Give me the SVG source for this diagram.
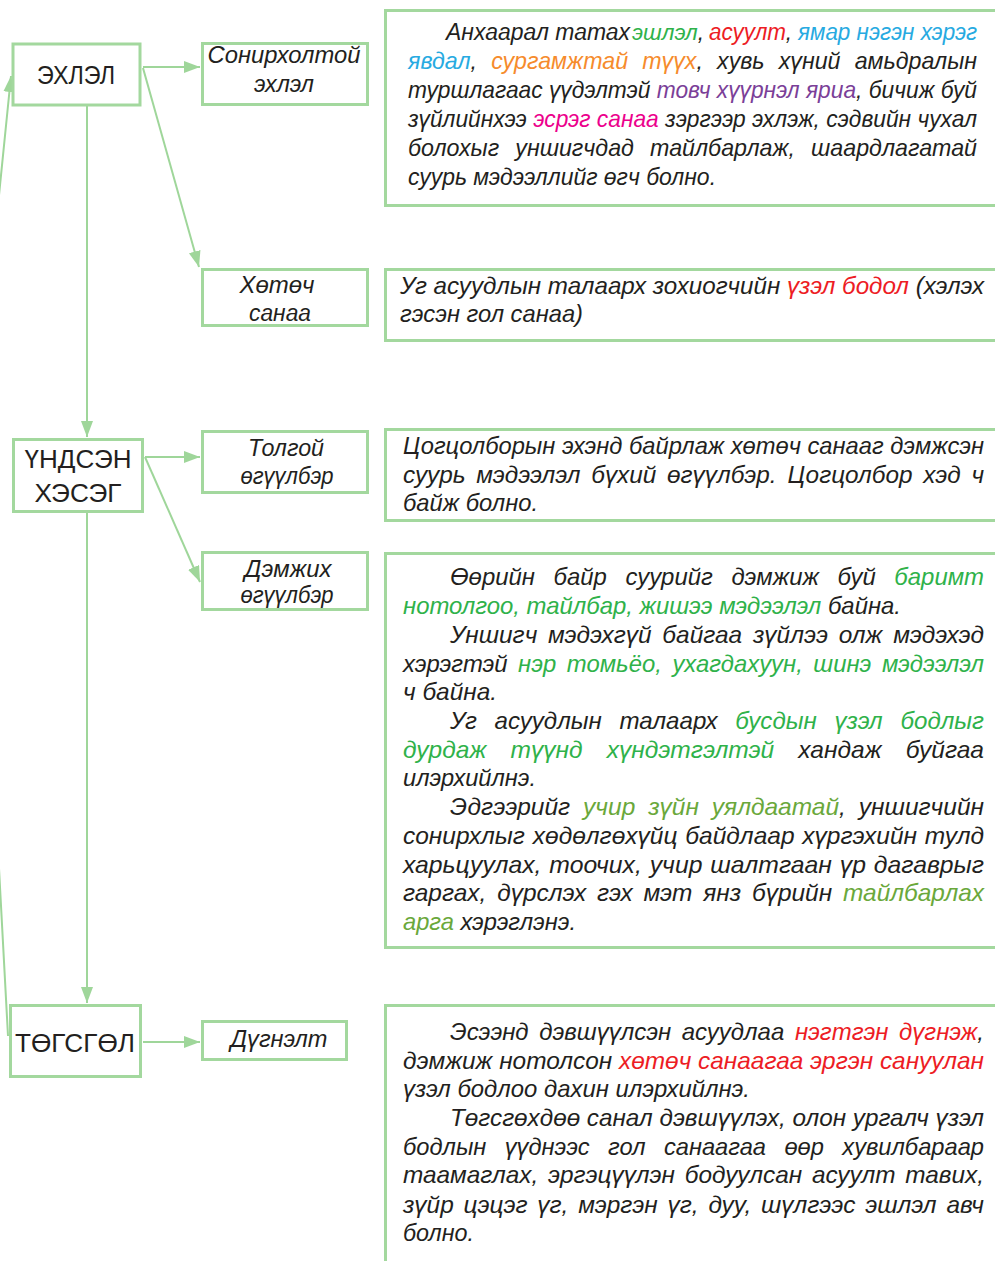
<svg xmlns="http://www.w3.org/2000/svg" width="995" height="1261" viewBox="0 0 995 1261">
<defs>
<marker id="ah" viewBox="0 0 16 12" refX="16" refY="6" markerWidth="16" markerHeight="12" markerUnits="userSpaceOnUse" orient="auto">
<path d="M0,0 L16,6 L0,12 Z" fill="#9fd69a"/>
</marker>
<style>
.box{fill:#ffffff;stroke:#a3d89e;stroke-width:3}
.tb{fill:none;stroke:#a3d89e;stroke-width:3}
.conn{fill:none;stroke:#9fd69a;stroke-width:2}
.t{font-family:"Liberation Sans",Arial,sans-serif;font-size:24px;font-style:italic;fill:#231f20}
.t1{font-size:23px}
.t2{font-size:22px}
.n{font-family:"Liberation Sans",Arial,sans-serif;font-size:25px;fill:#231f20;text-anchor:middle}
.s{font-family:"Liberation Sans",Arial,sans-serif;font-size:23px;font-style:italic;fill:#231f20;text-anchor:middle}
.g{fill:#2fb24a}
.r{fill:#ed1c24}
.c{fill:#27aae1}
.o{fill:#f68b2c}
.p{fill:#7b3f98}
.m{fill:#ec008c}
.ol{fill:#6aa83b}
</style>
</defs>
<rect width="995" height="1261" fill="#ffffff"/>

<g id="connectors">
<path class="conn" d="M143,67 H200" marker-end="url(#ah)"/>
<path class="conn" d="M143,68 L199,267" marker-end="url(#ah)"/>
<path class="conn" d="M87,106 V437" marker-end="url(#ah)"/>
<path class="conn" d="M145,457 H200" marker-end="url(#ah)"/>
<path class="conn" d="M145,457 L200,582" marker-end="url(#ah)"/>
<path class="conn" d="M87,513 V1003" marker-end="url(#ah)"/>
<path class="conn" d="M143,1042 H200" marker-end="url(#ah)"/>
<path class="conn" d="M8,1036 L-2,850 Q-22,520 -2,205 L11,76" marker-end="url(#ah)"/>
</g>

<g id="node-ekhlel">
<rect class="box" x="13" y="44" width="127" height="61"/>
<text class="n" x="76" y="84" textLength="78" lengthAdjust="spacingAndGlyphs">ЭХЛЭЛ</text>
</g>
<g id="node-sonirkholtoi">
<rect class="box" x="202.5" y="43.5" width="165" height="61"/>
<text class="s" x="284" y="63" textLength="153" lengthAdjust="spacingAndGlyphs">Сонирхолтой</text>
<text class="s" x="284" y="92" textLength="60" lengthAdjust="spacingAndGlyphs">эхлэл</text>
</g>
<g id="node-khotoch">
<rect class="box" x="202.5" y="269.5" width="165" height="56"/>
<text class="s" x="277" y="293" textLength="75" lengthAdjust="spacingAndGlyphs">Хөтөч</text>
<text class="s" x="280" y="321" textLength="62" lengthAdjust="spacingAndGlyphs">санаа</text>
</g>
<g id="node-undsen">
<rect class="box" x="13.5" y="439.5" width="129" height="72"/>
<text class="n" x="78" y="468" textLength="107" lengthAdjust="spacingAndGlyphs">ҮНДСЭН</text>
<text class="n" x="78" y="502" textLength="87" lengthAdjust="spacingAndGlyphs">ХЭСЭГ</text>
</g>
<g id="node-tolgoi">
<rect class="box" x="202.5" y="431.5" width="165" height="61"/>
<text class="s" x="286" y="456" textLength="76" lengthAdjust="spacingAndGlyphs">Толгой</text>
<text class="s" x="287" y="484" textLength="93" lengthAdjust="spacingAndGlyphs">өгүүлбэр</text>
</g>
<g id="node-demjikh">
<rect class="box" x="202.5" y="552.5" width="165" height="57"/>
<text class="s" x="288" y="577" textLength="87" lengthAdjust="spacingAndGlyphs">Дэмжих</text>
<text class="s" x="287" y="603" textLength="93" lengthAdjust="spacingAndGlyphs">өгүүлбэр</text>
</g>
<g id="node-tugsgul">
<rect class="box" x="10.5" y="1005.5" width="130" height="71"/>
<text class="n" x="75" y="1052" textLength="120" lengthAdjust="spacingAndGlyphs">ТӨГСГӨЛ</text>
</g>
<g id="node-dugnelt">
<rect class="box" x="202.5" y="1021.5" width="144" height="38"/>
<text class="s" x="279" y="1047" textLength="97" lengthAdjust="spacingAndGlyphs">Дүгнэлт</text>
</g>

<g id="text-sonirkholtoi">
<path class="tb" d="M995,10.5 H385.5 V205.5 H995"/>
<text class="t t1" x="446" y="40" textLength="184" lengthAdjust="spacingAndGlyphs">Анхаарал татах</text>
<text class="t t2" x="632" y="40" textLength="72" lengthAdjust="spacingAndGlyphs"><tspan class="g">эшлэл</tspan>,</text>
<text class="t t1" x="709" y="40" textLength="83" lengthAdjust="spacingAndGlyphs"><tspan class="r">асуулт</tspan>,</text>
<text class="t t1 c" x="798" y="40" textLength="179" lengthAdjust="spacingAndGlyphs">ямар нэгэн хэрэг</text>
<text class="t" x="408" y="69" textLength="569" lengthAdjust="spacingAndGlyphs" word-spacing="8"><tspan class="c">явдал</tspan>, <tspan class="o">сургамжтай түүх</tspan>, хувь хүний амьдралын</text>
<text class="t" x="408" y="98" textLength="569" lengthAdjust="spacingAndGlyphs">туршлагаас үүдэлтэй <tspan class="p">товч хүүрнэл яриа</tspan>, бичиж буй</text>
<text class="t" x="408" y="127" textLength="569" lengthAdjust="spacingAndGlyphs">зүйлийнхээ <tspan class="m">эсрэг санаа</tspan> зэргээр эхлэж, сэдвийн чухал</text>
<text class="t" x="408" y="156" textLength="569" lengthAdjust="spacingAndGlyphs" word-spacing="10">болохыг уншигчдад тайлбарлаж, шаардлагатай</text>
<text class="t" x="408" y="185" textLength="308" lengthAdjust="spacingAndGlyphs">суурь мэдээллийг өгч болно.</text>
</g>

<g id="text-khotoch">
<path class="tb" d="M995,269.5 H385.5 V340.5 H995"/>
<text class="t" x="400" y="294" textLength="584" lengthAdjust="spacingAndGlyphs">Уг асуудлын талаарх зохиогчийн <tspan class="r">үзэл бодол</tspan> (хэлэх</text>
<text class="t" x="400" y="322" textLength="183" lengthAdjust="spacingAndGlyphs">гэсэн гол санаа)</text>
</g>

<g id="text-tolgoi">
<path class="tb" d="M995,429.5 H385.5 V520.5 H995"/>
<text class="t" x="403" y="454" textLength="581" lengthAdjust="spacingAndGlyphs">Цогцолборын эхэнд байрлаж хөтөч санааг дэмжсэн</text>
<text class="t" x="403" y="483" textLength="581" lengthAdjust="spacingAndGlyphs" word-spacing="4">суурь мэдээлэл бүхий өгүүлбэр. Цогцолбор хэд ч</text>
<text class="t" x="403" y="511" textLength="135" lengthAdjust="spacingAndGlyphs">байж болно.</text>
</g>

<g id="text-demjikh">
<path class="tb" d="M995,553.5 H385.5 V947.5 H995"/>
<text class="t" x="450" y="585" textLength="534" lengthAdjust="spacingAndGlyphs" word-spacing="12">Өөрийн байр суурийг дэмжиж буй <tspan class="g">баримт</tspan></text>
<text class="t" x="403" y="614" textLength="498" lengthAdjust="spacingAndGlyphs"><tspan class="g">нотолгоо, тайлбар, жишээ мэдээлэл</tspan> байна.</text>
<text class="t" x="450" y="643" textLength="534" lengthAdjust="spacingAndGlyphs" word-spacing="4">Уншигч мэдэхгүй байгаа зүйлээ олж мэдэхэд</text>
<text class="t" x="403" y="672" textLength="581" lengthAdjust="spacingAndGlyphs" word-spacing="4">хэрэгтэй <tspan class="g">нэр томьёо, ухагдахуун, шинэ мэдээлэл</tspan></text>
<text class="t" x="403" y="700" textLength="94" lengthAdjust="spacingAndGlyphs">ч байна.</text>
<text class="t" x="450" y="729" textLength="534" lengthAdjust="spacingAndGlyphs" word-spacing="11">Уг асуудлын талаарх <tspan class="g">бусдын үзэл бодлыг</tspan></text>
<text class="t" x="403" y="758" textLength="581" lengthAdjust="spacingAndGlyphs" word-spacing="17"><tspan class="g">дурдаж түүнд хүндэтгэлтэй</tspan> хандаж буйгаа</text>
<text class="t" x="403" y="786" textLength="133" lengthAdjust="spacingAndGlyphs">илэрхийлнэ.</text>
<text class="t" x="450" y="815" textLength="534" lengthAdjust="spacingAndGlyphs" word-spacing="6">Эдгээрийг <tspan class="ol">учир зүйн уялдаатай</tspan>, уншигчийн</text>
<text class="t" x="403" y="844" textLength="581" lengthAdjust="spacingAndGlyphs" word-spacing="1">сонирхлыг хөдөлгөхүйц байдлаар хүргэхийн тулд</text>
<text class="t" x="403" y="873" textLength="581" lengthAdjust="spacingAndGlyphs" word-spacing="1">харьцуулах, тоочих, учир шалтгаан үр дагаврыг</text>
<text class="t" x="403" y="901" textLength="581" lengthAdjust="spacingAndGlyphs" word-spacing="4">гаргах, дүрслэх гэх мэт янз бүрийн <tspan class="ol">тайлбарлах</tspan></text>
<text class="t" x="403" y="930" textLength="173" lengthAdjust="spacingAndGlyphs"><tspan class="ol">арга</tspan> хэрэглэнэ.</text>
</g>

<g id="text-dugnelt">
<path class="tb" d="M995,1005.5 H385.5 V1261"/>
<text class="t" x="450" y="1040" textLength="534" lengthAdjust="spacingAndGlyphs" word-spacing="4">Эсээнд дэвшүүлсэн асуудлаа <tspan class="r">нэгтгэн дүгнэж</tspan>,</text>
<text class="t" x="403" y="1069" textLength="581" lengthAdjust="spacingAndGlyphs"><tspan>дэмжиж нотолсон </tspan><tspan class="r">хөтөч санаагаа эргэн сануулан</tspan></text>
<text class="t" x="403" y="1097" textLength="347" lengthAdjust="spacingAndGlyphs">үзэл бодлоо дахин илэрхийлнэ.</text>
<text class="t" x="450" y="1126" textLength="534" lengthAdjust="spacingAndGlyphs">Төгсгөхдөө санал дэвшүүлэх, олон ургалч үзэл</text>
<text class="t" x="403" y="1155" textLength="581" lengthAdjust="spacingAndGlyphs" word-spacing="12">бодлын үүднээс гол санаагаа өөр хувилбараар</text>
<text class="t" x="403" y="1183" textLength="581" lengthAdjust="spacingAndGlyphs" word-spacing="3">таамаглах, эргэцүүлэн бодуулсан асуулт тавих,</text>
<text class="t" x="403" y="1213" textLength="581" lengthAdjust="spacingAndGlyphs" word-spacing="3">зүйр цэцэг үг, мэргэн үг, дуу, шүлгээс эшлэл авч</text>
<text class="t" x="403" y="1241" textLength="71" lengthAdjust="spacingAndGlyphs">болно.</text>
</g>
</svg>
